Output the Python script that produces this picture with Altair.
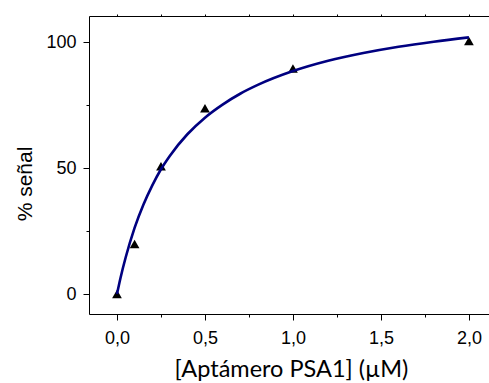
import altair as alt
import pandas as pd

# measured data points
conc = [0, 0.1, 0.25, 0.5, 1.0, 2.0]
signal = [0, 19.9, 50.8, 73.8, 89.6, 100.6]

# fitted curve
fit_x = [0, 0.02, 0.05, 0.1, 0.15, 0.2, 0.25, 0.3, 0.4, 0.5, 0.6, 0.7, 0.8,
         1.0, 1.2, 1.4, 1.6, 1.8, 2.0]
fit_y = [0, 6.4, 14.7, 26.3, 35.5, 43.1, 49.6, 54.9, 63.5, 70.1, 75.3, 79.6,
         83.1, 88.6, 92.7, 95.8, 98.3, 100.3, 102.0]

x_major = [0, 0.5, 1.0, 1.5, 2.0]
x_minor = [0.25, 0.75, 1.25, 1.75]
x_top = [0, 0.25, 0.5, 0.75, 1.0, 1.25, 1.5, 1.75, 2.0]
y_major = [0, 50, 100]
y_minor = [25, 75]

pts = pd.DataFrame({"x": conc, "y": signal})
fit = pd.DataFrame({"x": fit_x, "y": fit_y})

xs = alt.Scale(domain=[-0.159, 2.114], nice=False, zero=False)
ys = alt.Scale(domain=[-7.94, 110.5], nice=False, zero=False)

points = alt.Chart(pts).mark_point(
    shape="triangle-up", filled=True, color="black", size=95, opacity=1
).encode(
    x=alt.X("x:Q", scale=xs, title="",
            axis=alt.Axis(orient="bottom", values=x_minor, tickSize=3, labels=False,
                          domain=False, grid=False, tickColor="black")),
    y=alt.Y("y:Q", scale=ys, title="",
            axis=alt.Axis(orient="left", values=y_minor, tickSize=3, labels=False,
                          domain=False, grid=False, tickColor="black")),
)

line = alt.Chart(fit).mark_line(
    color="#000080", strokeWidth=2.6, interpolate="monotone"
).encode(
    x=alt.X("x:Q", scale=xs, title="[Aptámero PSA1] (µM)",
            axis=alt.Axis(orient="bottom", values=x_major, tickSize=6,
                          labelExpr="replace(format(datum.value, '.1f'), '.', ',')",
                          labelFont="Liberation Sans", labelFontSize=18, labelColor="black",
                          labelBaseline="alphabetic", labelPadding=23,
                          domain=True, domainColor="black", grid=False, tickColor="black",
                          titleFont="Lato", titleFontSize=23.5, titleFontWeight="normal",
                          titleColor="black", titleX=202, titleY=62,
                          titleBaseline="alphabetic", titleAlign="center")),
    y=alt.Y("y:Q", scale=ys, title="% señal",
            axis=alt.Axis(orient="left", values=y_major, tickSize=6,
                          labelFont="Liberation Sans", labelFontSize=18, labelColor="black",
                          labelPadding=7, domain=True, domainColor="black", grid=False,
                          tickColor="black",
                          titleFont="Liberation Sans", titleFontSize=21,
                          titleFontWeight="normal", titleColor="black",
                          titleAngle=270, titleX=-57.3, titleY=167.5,
                          titleBaseline="alphabetic", titleAlign="center")),
)

top = alt.Chart(pts).mark_point(opacity=0).encode(
    x=alt.X("x:Q", scale=xs, title="",
            axis=alt.Axis(orient="top", values=x_top, tickSize=2, labels=False,
                          domain=True, domainColor="black", grid=False, tickColor="black")),
    y=alt.Y("y:Q", scale=ys, axis=None),
)

chart = alt.layer(points, line, top).resolve_axis(
    x="independent", y="independent"
).properties(
    width=400, height=298,
    autosize=alt.AutoSizeParams(type="none"),
    padding={"left": 89, "top": 16, "right": 0, "bottom": 69},
).configure_view(stroke=None).configure(background="white")

chart.save("out.html", embed_options={"renderer": "svg", "actions": False})
